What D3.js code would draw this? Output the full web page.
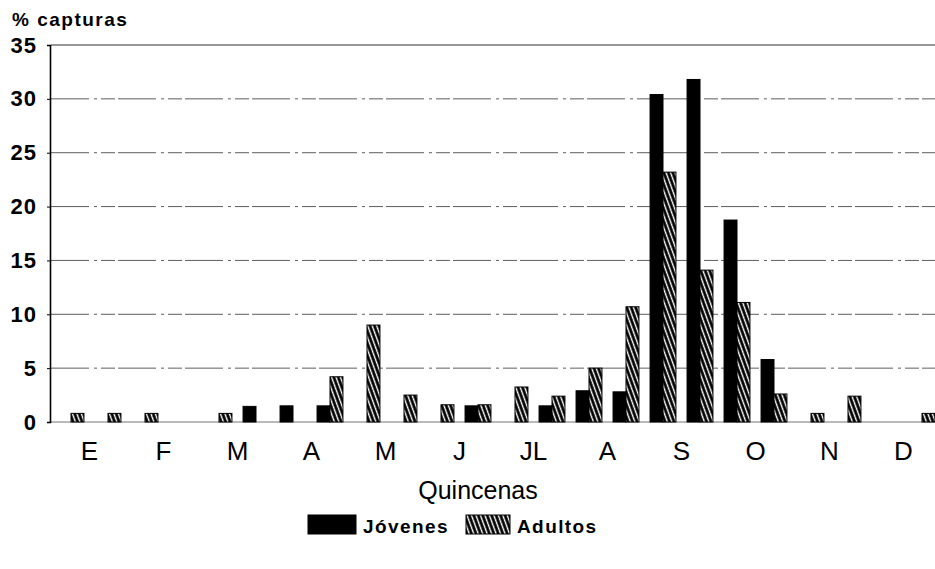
<!DOCTYPE html>
<html>
<head>
<meta charset="utf-8">
<script src="https://cdn.jsdelivr.net/npm/d3@7"></script>
<style>
  body { margin: 0; background: #fff; }
  svg { display: block; font-family: "Liberation Sans", Arial, sans-serif; }
</style>
</head>
<body>
<div id="chart"></div>
<script>
var width = 935;
var height = 569;

// quincenas (2 per month)
var months = ["E", "F", "M", "A", "M", "J", "JL", "A", "S", "O", "N", "D"];
var quincenas = d3.range(24);
var jovenes = [0, 0, 0, 0, 0, 1.45, 1.5, 1.5, 0, 0, 0, 1.5, 0, 1.5, 2.9, 2.8, 30.4, 31.8, 18.75, 5.8, 0, 0, 0, 0];
var adultos = [0.8, 0.8, 0.8, 0, 0.8, 0, 0, 4.2, 9.0, 2.5, 1.6, 1.6, 3.25, 2.4, 5.0, 10.7, 23.2, 14.1, 11.1, 2.6, 0.8, 2.4, 0, 0.8];
var yTicks = [0, 5, 10, 15, 20, 25, 30, 35];
var series = ["Jóvenes", "Adultos"];

var svg = d3.select("#chart").append("svg")
    .attr("width", width)
    .attr("height", height);

var defs = svg.append("defs");
var pat = defs.append("pattern")
    .attr("id", "hatch")
    .attr("patternUnits", "userSpaceOnUse")
    .attr("width", 4.2)
    .attr("height", 10)
    .attr("patternTransform", "rotate(-20)");
pat.append("rect").attr("width", 4.2).attr("height", 10).attr("fill", "#000");
pat.append("rect").attr("x", 1.5).attr("width", 1.4).attr("height", 10).attr("fill", "#fff");

var x = d3.scaleBand()
    .domain(quincenas)
    .range([52.5, 940.5])
    .paddingInner(0.3)
    .paddingOuter(0.15);

var xSub = d3.scaleBand()
    .domain(series)
    .range([0, x.bandwidth()]);

var y = d3.scaleLinear()
    .domain([0, 35])
    .range([422, 45]);

// grid
svg.append("g")
    .selectAll("line")
    .data(yTicks.filter(function (d) { return d > 0; }))
    .enter().append("line")
    .attr("x1", 51)
    .attr("x2", width)
    .attr("y1", function (d) { return y(d); })
    .attr("y2", function (d) { return y(d); })
    .attr("stroke", "#333")
    .attr("stroke-width", function (d) { return d == 35 ? 1.2 : 0.8; })
    .attr("stroke-dasharray", function (d) { return d == 35 ? null : "38,5,3,4,14,3"; });

// baseline
svg.append("line")
    .attr("x1", 50).attr("x2", width)
    .attr("y1", y(0)).attr("y2", y(0))
    .attr("stroke", "#777")
    .attr("stroke-width", 1.2);

// y axis
var yAxis = d3.axisLeft(y)
    .tickValues(yTicks)
    .tickSize(3)
    .tickPadding(10);

var gy = svg.append("g")
    .attr("transform", "translate(50,0)")
    .call(yAxis);
gy.select(".domain").attr("stroke", "#000").attr("stroke-width", 1.6);
gy.selectAll(".tick line").attr("stroke", "#000");
gy.selectAll(".tick text")
    .attr("font-size", 22)
    .attr("font-weight", "bold")
    .attr("letter-spacing", 1)
    .attr("font-family", "Liberation Sans, Arial, sans-serif")
    .attr("fill", "#000");

svg.append("text")
    .attr("x", 12)
    .attr("y", 26)
    .attr("font-size", 19)
    .attr("font-weight", "bold")
    .attr("letter-spacing", 1.5)
    .text("% capturas");

// bars
var groups = svg.append("g")
    .selectAll("g")
    .data(quincenas)
    .enter().append("g")
    .attr("transform", function (d) { return "translate(" + x(d) + ",0)"; });

groups.selectAll("rect")
    .data(function (d) {
        return [
            { key: "Jóvenes", value: jovenes[d] },
            { key: "Adultos", value: adultos[d] }
        ].filter(function (e) { return e.value > 0; });
    })
    .enter().append("rect")
    .attr("x", function (d) { return xSub(d.key); })
    .attr("y", function (d) { return y(d.value); })
    .attr("width", xSub.bandwidth())
    .attr("height", function (d) { return y(0) - y(d.value); })
    .attr("fill", function (d) { return d.key == "Jóvenes" ? "#000" : "url(#hatch)"; })
    .attr("stroke", "#000")
    .attr("stroke-width", 1);

// month labels
svg.append("g")
    .selectAll("text")
    .data(months)
    .enter().append("text")
    .attr("x", function (d, i) { return (x(2 * i) + x(2 * i + 1) + x.bandwidth()) / 2; })
    .attr("y", 460)
    .attr("text-anchor", "middle")
    .attr("font-size", 26)
    .text(function (d) { return d; });

svg.append("text")
    .attr("x", 478)
    .attr("y", 499)
    .attr("text-anchor", "middle")
    .attr("font-size", 25)
    .text("Quincenas");

// legend
var legend = svg.append("g");
var legX = [308, 466];
var legW = [48, 44];
series.forEach(function (s, i) {
    legend.append("rect")
        .attr("x", legX[i])
        .attr("y", 515)
        .attr("width", legW[i])
        .attr("height", 19)
        .attr("fill", i == 0 ? "#000" : "url(#hatch)")
        .attr("stroke", "#000");
    legend.append("text")
        .attr("x", legX[i] + legW[i] + 7)
        .attr("y", 533)
        .attr("font-size", 19)
        .attr("font-weight", "bold")
        .attr("letter-spacing", 1.4)
        .text(s);
});
</script>
</body>
</html>
